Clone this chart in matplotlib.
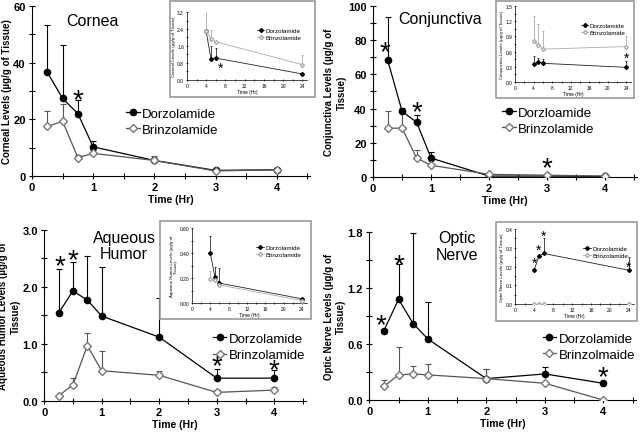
import matplotlib
matplotlib.use("Agg")
import matplotlib.pyplot as plt
from matplotlib.patches import Rectangle
from matplotlib.ticker import MultipleLocator, FormatStrFormatter
from matplotlib.transforms import offset_copy
import numpy as np

# ~~~~~~~~ data (main panels, 0-4 hr) ~~~~~~~~
t_main = [0.25, 0.5, 0.75, 1, 2, 3, 4]

cornea_dorz = [36.6, 27.4, 22.0, 10.3, 5.5, 2.0, 2.2]
cornea_dorz_err = [16.6, 19.0, 4.8, 2.0, 1.0, 0.5, 0.8]
cornea_brin = [17.5, 19.3, 6.5, 8.0, 5.5, 1.8, 2.2]
cornea_brin_err = [5.3, 6.2, 0.8, 1.2, 1.5, 0.5, 0.8]

conj_dorz = [68.5, 38.3, 32.0, 11.0, 0.5, 0.5, 0.3]
conj_dorz_err = [25.3, 2.0, 4.3, 3.6, 0.3, 0.3, 0.2]
conj_brin = [28.5, 28.5, 11.0, 6.8, 1.5, 1.0, 0.5]
conj_brin_err = [9.9, 10.0, 4.5, 1.0, 0.3, 0.3, 0.2]

aq_dorz = [1.54, 1.93, 1.77, 1.49, 1.12, 0.40, 0.40]
aq_dorz_err = [0.77, 0.50, 0.77, 0.86, 0.69, 0.16, 0.15]
aq_brin = [0.09, 0.28, 0.97, 0.53, 0.45, 0.15, 0.19]
aq_brin_err = [0.02, 0.13, 0.22, 0.35, 0.08, 0.05, 0.06]

on_dorz = [0.745, 1.08, 0.82, 0.655, 0.23, 0.28, 0.18]
on_dorz_err = [0.0, 0.38, 0.97, 0.40, 0.10, 0.07, 0.0]
on_brin = [0.147, 0.27, 0.28, 0.27, 0.23, 0.18, 0.0]
on_brin_err = [0.07, 0.30, 0.08, 0.12, 0.10, 0.0, 0.0]

# ~~~~~~~~ data (insets, 4-24 hr) ~~~~~~~~
t_inset = [4, 5, 6, 24]

cornea_in_dorz = [2.3, 1.0, 1.03, 0.28]
cornea_in_dorz_err = [0.0, 0.58, 0.47, 0.0]
cornea_in_brin = [2.3, 1.95, 1.8, 0.72]
cornea_in_brin_err = [1.0, 0.4, 0.0, 0.45]

conj_in_dorz = [0.35, 0.40, 0.37, 0.29]
conj_in_dorz_err = [0.16, 0.08, 0.09, 0.13]
conj_in_brin = [0.80, 0.74, 0.65, 0.70]
conj_in_brin_err = [0.51, 0.40, 0.35, 0.20]

aq_in_dorz = [0.40, 0.21, 0.16, 0.034]
aq_in_dorz_err = [0.14, 0.08, 0.12, 0.0]
aq_in_brin = [0.19, 0.185, 0.145, 0.02]
aq_in_brin_err = [0.07, 0.0, 0.0, 0.0]

on_in_dorz = [0.18, 0.256, 0.27, 0.18]
on_in_dorz_err = [0.0, 0.0, 0.085, 0.07]
on_in_brin = [0.0, 0.0, 0.0, 0.0]
on_in_brin_err = [0.0, 0.0, 0.0, 0.0]

# significance stars (x, y)
cornea_stars = [(0.75, 28.5)]
conj_stars = [(0.2, 76), (0.75, 41), (3, 8)]
aq_stars = [(0.27, 2.45), (0.5, 2.55), (3, 0.69), (4, 0.63)]
on_stars = [(0.2, 0.86), (0.5, 1.5), (4, 0.3)]
cornea_in_stars = [(7, 0.65)]
conj_in_stars = [(24, 0.52)]
on_in_stars = [(4, 0.23), (5, 0.30), (6, 0.375), (24, 0.21)]

plt.rcParams['font.family'] = ['Liberation Sans', 'DejaVu Sans']
fig = plt.figure(figsize=(6.4, 4.35), dpi=100)


def draw_main(rect, dorz, dorz_err, brin, brin_err, ymax, ymaj, ymin, fmt,
              ylabel, title, title_xy, names, leg_xy, stars):
    ax = fig.add_axes(rect)
    ax.errorbar(t_main, dorz, yerr=[np.zeros(7), dorz_err], fmt='none',
                ecolor='black', elinewidth=0.8, capsize=2, capthick=0.8)
    ax.errorbar(t_main, brin, yerr=[np.zeros(7), brin_err], fmt='none',
                ecolor='#555555', elinewidth=0.8, capsize=2, capthick=0.8)
    ax.plot(t_main, dorz, '-o', color='black', lw=0.9, ms=4.5,
            mfc='black', mec='black', label=names[0], zorder=4)
    ax.plot(t_main, brin, '-D', color='#555555', lw=0.9, ms=4,
            mfc='white', mec='#777777', label=names[1], zorder=4)
    ax.set_xlim(0, 4.55)
    ax.set_ylim(0, ymax)
    ax.xaxis.set_major_locator(MultipleLocator(1))
    ax.xaxis.set_minor_locator(MultipleLocator(0.5))
    ax.yaxis.set_major_locator(MultipleLocator(ymaj))
    ax.yaxis.set_minor_locator(MultipleLocator(ymin))
    ax.yaxis.set_major_formatter(FormatStrFormatter(fmt))
    for s in ['top', 'right']:
        ax.spines[s].set_visible(False)
    ax.tick_params(which='both', direction='inout', length=5, width=0.8,
                   labelsize=8, pad=2)
    ax.tick_params(which='minor', length=4)
    for lb in ax.get_xticklabels() + ax.get_yticklabels():
        lb.set_fontweight('bold')
    ax.set_xlabel('Time (Hr)', fontsize=7.5, fontweight='bold', labelpad=1)
    ax.set_ylabel(ylabel, fontsize=7, fontweight='bold', labelpad=1,
                  linespacing=1.3)
    ax.text(title_xy[0], title_xy[1], title, transform=ax.transAxes,
            fontsize=11.5, ha='center', va='top', linespacing=1.1)
    ax.legend(loc='center left', bbox_to_anchor=leg_xy, frameon=False,
              fontsize=9.5, handlelength=1.0, handletextpad=0.2,
              labelspacing=0.3, borderaxespad=0)
    star_tr = offset_copy(ax.transData, fig=fig, y=-5, units='dots')
    for sx, sy in stars:
        ax.text(sx, sy, '*', fontsize=20, ha='center', va='center',
                transform=star_tr)
    return ax


def draw_inset(box, rect, dorz, dorz_err, brin, brin_err, ymax, ymaj, fmt,
               ylabel, stars):
    fig.patches.append(Rectangle((box[0], box[1]), box[2], box[3],
                                 transform=fig.transFigure, fc='white',
                                 ec='#999999', lw=1.2, zorder=5))
    ax = fig.add_axes(rect, zorder=6)
    ax.patch.set_alpha(0)
    ax.errorbar(t_inset, dorz, yerr=[np.zeros(4), dorz_err], fmt='none',
                ecolor='black', elinewidth=0.5, capsize=1, capthick=0.5)
    ax.errorbar(t_inset, brin, yerr=[np.zeros(4), brin_err], fmt='none',
                ecolor='#999999', elinewidth=0.5, capsize=1, capthick=0.5)
    ax.plot(t_inset, dorz, '-D', color='#222222', lw=0.6, ms=2,
            mfc='black', mec='black', label='Dorzolamide', zorder=4)
    ax.plot(t_inset, brin, '-D', color='#aaaaaa', lw=0.6, ms=2,
            mfc='white', mec='#aaaaaa', label='Brinzolamide', zorder=4)
    ax.set_xlim(0, 25)
    ax.set_ylim(0, ymax)
    ax.xaxis.set_major_locator(MultipleLocator(4))
    ax.xaxis.set_minor_locator(MultipleLocator(2))
    ax.yaxis.set_major_locator(MultipleLocator(ymaj))
    ax.yaxis.set_minor_locator(MultipleLocator(ymaj / 2))
    ax.yaxis.set_major_formatter(FormatStrFormatter(fmt))
    for s in ['top', 'right']:
        ax.spines[s].set_visible(False)
    for s in ['left', 'bottom']:
        ax.spines[s].set_linewidth(0.5)
    ax.tick_params(which='both', direction='inout', length=2, width=0.5,
                   labelsize=3.5, pad=1)
    ax.set_xlabel('Time (Hr)', fontsize=3.5, labelpad=1)
    ax.set_ylabel(ylabel, fontsize=3.2, labelpad=1)
    ax.legend(loc='upper right', bbox_to_anchor=(1.0, 0.85), frameon=False,
              fontsize=4.5, handlelength=1.2, handletextpad=0.2,
              labelspacing=0.2)
    star_tr = offset_copy(ax.transData, fig=fig, y=-2, units='dots')
    for sx, sy in stars:
        ax.text(sx, sy, '*', fontsize=10, ha='center', va='center',
                transform=star_tr)
    return ax


draw_main([0.05, 0.593, 0.435, 0.391], cornea_dorz, cornea_dorz_err,
          cornea_brin, cornea_brin_err, 60, 20, 10, '%d',
          'Corneal Levels (\u00b5g/g of Tissue)', 'Cornea', (0.216, 0.96),
          ['Dorzolamide', 'Brinzolamide'], (0.32, 0.32), cornea_stars)
draw_main([0.583, 0.591, 0.412, 0.393], conj_dorz, conj_dorz_err,
          conj_brin, conj_brin_err, 100, 20, 10, '%d',
          'Conjunctiva Levels (\u00b5g/g of\nTissue)', 'Conjunctiva',
          (0.254, 0.97), ['Dorzloamide', 'Brinzolamide'], (0.47, 0.33),
          conj_stars)
draw_main([0.069, 0.076, 0.409, 0.393], aq_dorz, aq_dorz_err,
          aq_brin, aq_brin_err, 3.0, 1.0, 0.5, '%.1f',
          'Aqueous Humor Levels (\u00b5g/g of\nTissue)', 'Aqueous\nHumor',
          (0.305, 1.0), ['Dorzolamide', 'Brinzolamide'], (0.626, 0.316),
          aq_stars)
draw_main([0.577, 0.078, 0.416, 0.386], on_dorz, on_dorz_err,
          on_brin, on_brin_err, 1.8, 0.6, 0.3, '%.1f',
          'Optic Nerve Levels (\u00b5g/g of\nTissue)', 'Optic\nNerve',
          (0.33, 1.01), ['Dorzolamide', 'Brinzolmaide'], (0.632, 0.318),
          on_stars)

draw_inset((0.266, 0.775, 0.226, 0.221), [0.292, 0.814, 0.188, 0.156],
           cornea_in_dorz, cornea_in_dorz_err, cornea_in_brin,
           cornea_in_brin_err, 3.2, 0.8, '%.1f',
           'Corneal Levels (\u00b5g/g of Tissue)', cornea_in_stars)
draw_inset((0.775, 0.772, 0.216, 0.223), [0.805, 0.809, 0.181, 0.175],
           conj_in_dorz, conj_in_dorz_err, conj_in_brin, conj_in_brin_err,
           1.5, 0.3, '%.1f', 'Conjunctiva Levels (\u00b5g/g of Tissue)',
           conj_in_stars)
draw_inset((0.25, 0.264, 0.236, 0.225), [0.3, 0.301, 0.179, 0.172],
           aq_in_dorz, aq_in_dorz_err, aq_in_brin, aq_in_brin_err,
           0.6, 0.2, '%.2f', 'Aqueous Humor Levels (\u00b5g/g of\nTissue)',
           [])
draw_inset((0.775, 0.26, 0.22, 0.228), [0.805, 0.299, 0.185, 0.172],
           on_in_dorz, on_in_dorz_err, on_in_brin, on_in_brin_err,
           0.4, 0.1, '%.1f', 'Optic Nerve Levels (\u00b5g/g of Tissue)',
           on_in_stars)

fig.savefig('out.png', dpi=100)
